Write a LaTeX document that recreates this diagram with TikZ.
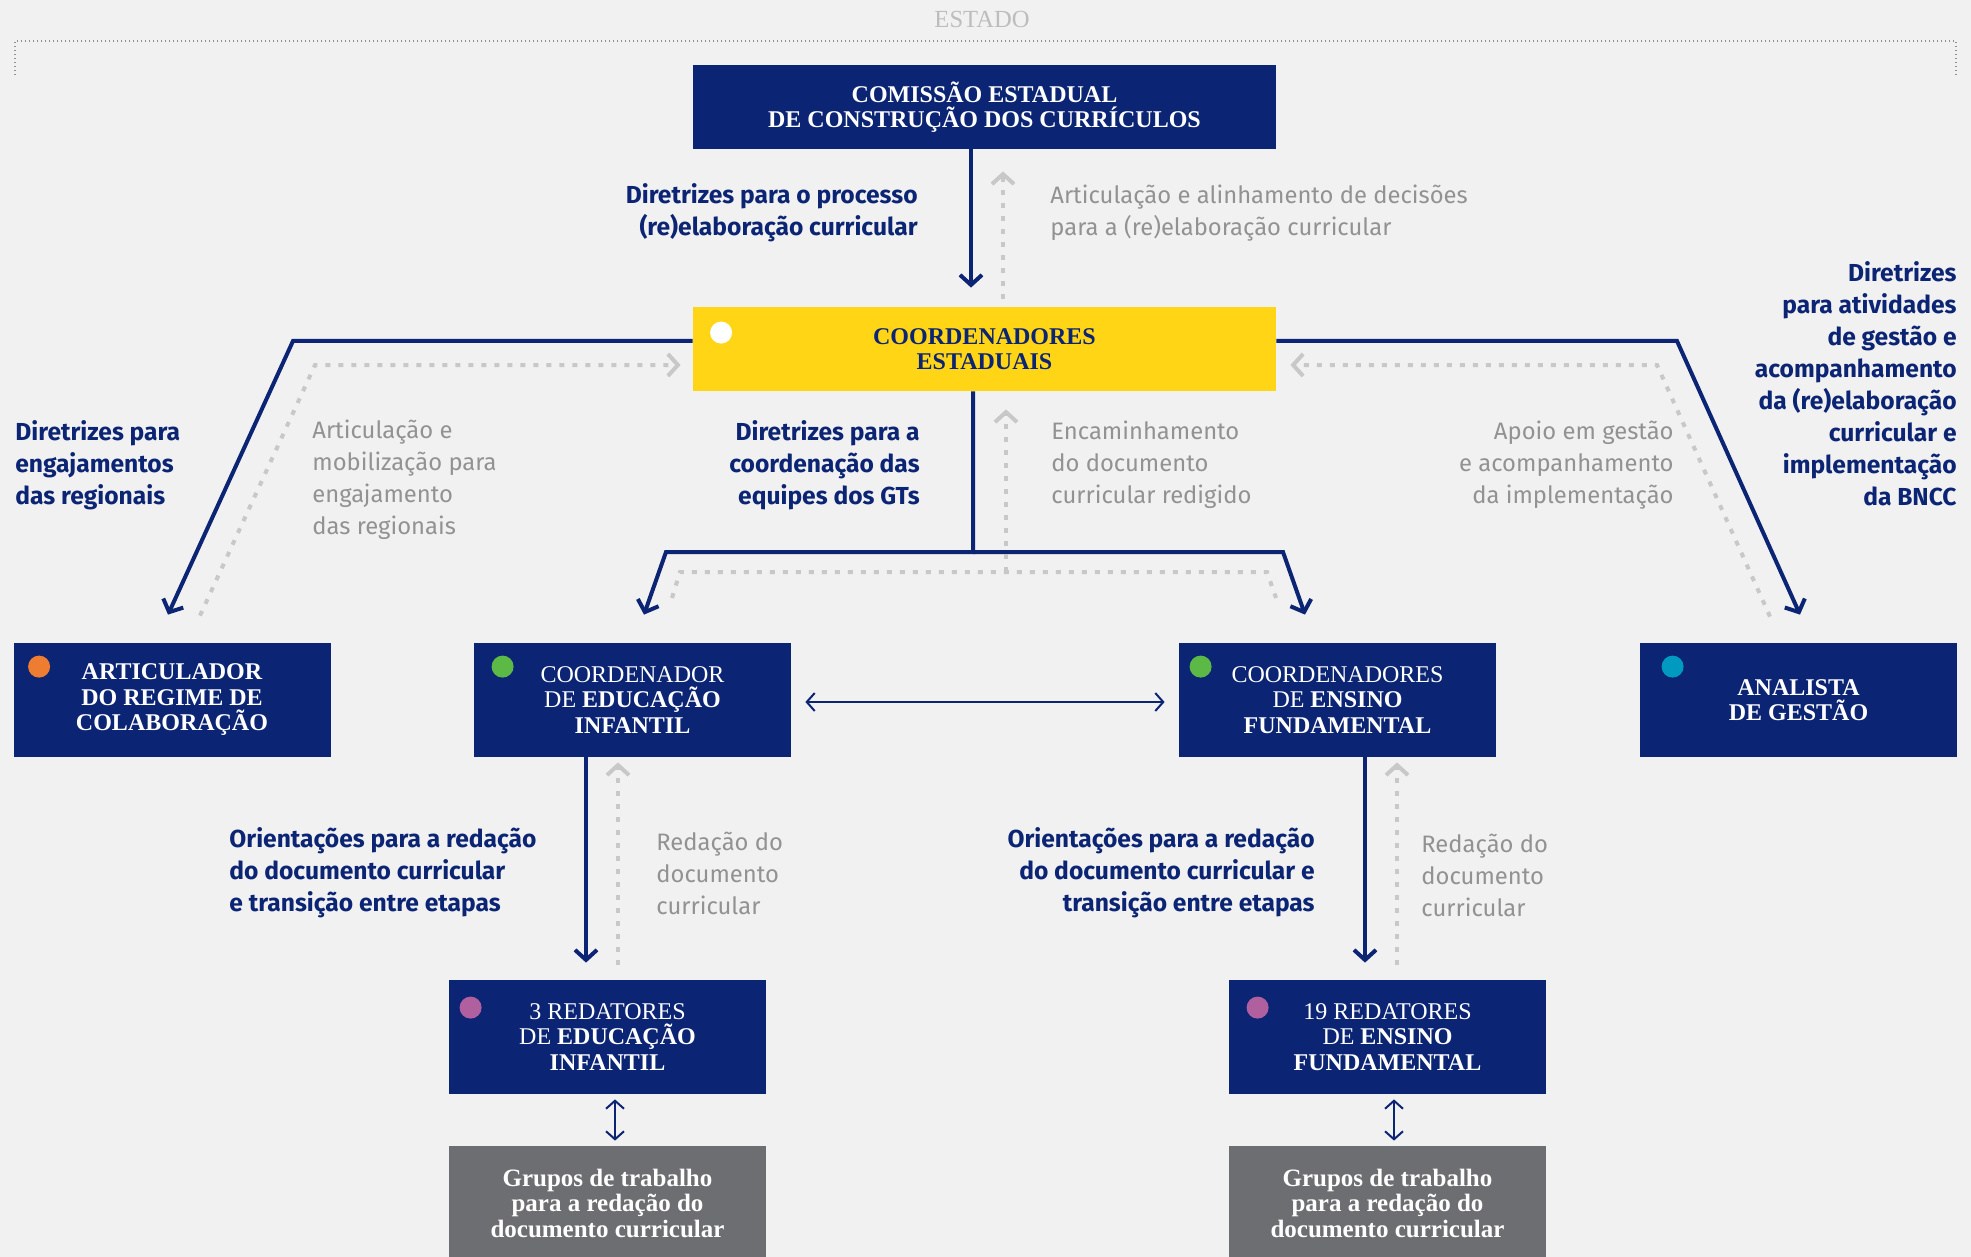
\documentclass[tikz,border=0pt]{standalone}
\usepackage{fontspec}
\setmainfont{Liberation Serif}
\newfontfamily\labelfont{Fira Sans}
\usetikzlibrary{arrows.meta}
\definecolor{navy}{HTML}{0B2473}
\definecolor{gold}{HTML}{FFD515}
\definecolor{paper}{HTML}{F1F1F1}
\definecolor{slate}{HTML}{6D6E71}
\definecolor{dotgrey}{HTML}{C8C8C8}
\definecolor{greytext}{HTML}{929292}
\definecolor{statetext}{HTML}{BDBDBD}
\definecolor{framegrey}{HTML}{8F8F8F}
\definecolor{dotorange}{HTML}{EE7D31}
\definecolor{dotgreen}{HTML}{5CB946}
\definecolor{dotteal}{HTML}{0099C0}
\definecolor{dotpurple}{HTML}{B0609F}
\begin{document}
\begin{tikzpicture}
[x=0.5pt, y=-0.5pt,%
 navybox/.style={fill=navy, text=white, inner sep=0pt, minimum width=158.5pt,
   minimum height=57pt, align=center, font=\fontsize{12}{12.75}\selectfont},%
 widebox/.style={navybox, minimum width=291.5pt, minimum height=42pt},%
 navylabel/.style={text=navy, inner sep=0pt, font=\labelfont\bfseries\fontsize{12.3}{16}\selectfont},%
 greylabel/.style={text=greytext, inner sep=0pt, font=\labelfont\fontsize{11.9}{16}\selectfont},%
 navyarrow/.style={draw=navy, line width=2pt, -{Straight Barb[length=5pt,width=11pt]}},%
 greyline/.style={draw=dotgrey, line width=2pt, dash pattern=on 2.5pt off 4pt},%
 greyarrow/.style={greyline, -{Straight Barb[length=5pt,width=11pt]}},%
 thinarrow/.style={draw=navy, line width=1pt,
   {Straight Barb[length=4pt,width=9pt]}-{Straight Barb[length=4pt,width=9pt]}}]
\fill[paper] (0,0) rectangle (1971,1257);
\useasboundingbox (0,0) rectangle (1971,1257);
%% state frame
\node[text=statetext, font=\fontsize{12.3}{14}\selectfont] (estado) at (982,19.5) {ESTADO};
\draw[framegrey, line width=0.75pt, dash pattern=on 0.6pt off 1.4pt] (15,75) -- (15,41) -- (1956,41) -- (1956,75);
%% boxes
\node[widebox] (comissao) at (984.5,107) {\bfseries COMISSÃO ESTADUAL\\\bfseries DE CONSTRUÇÃO DOS CURRÍCULOS};
\node[widebox, fill=gold, text=navy] (coord) at (984.5,349) {\bfseries COORDENADORES\\\bfseries ESTADUAIS};
\node[navybox] (artic) at (172,700) {\bfseries ARTICULADOR\\\bfseries DO REGIME DE\\\bfseries COLABORAÇÃO};
\node[navybox] (coordei) at (632.5,700) {COORDENADOR\\DE \textbf{EDUCAÇÃO}\\\textbf{INFANTIL}};
\node[navybox] (coordef) at (1337.5,700) {COORDENADORES\\DE \textbf{ENSINO}\\\textbf{FUNDAMENTAL}};
\node[navybox] (analista) at (1798.5,700) {\bfseries ANALISTA\\\bfseries DE GESTÃO};
\node[navybox] (redei) at (607.5,1037) {3 REDATORES\\DE \textbf{EDUCAÇÃO}\\\textbf{INFANTIL}};
\node[navybox] (redef) at (1387.5,1037) {19 REDATORES\\DE \textbf{ENSINO}\\\textbf{FUNDAMENTAL}};
\node[navybox, fill=slate, font=\bfseries\fontsize{12.5}{12.75}\selectfont] (gtei) at (607.5,1203)
  {Grupos de trabalho\\para a redação do\\documento curricular};
\node[navybox, fill=slate, font=\bfseries\fontsize{12.5}{12.75}\selectfont] (gtef) at (1387.5,1203)
  {Grupos de trabalho\\para a redação do\\documento curricular};
\foreach \n/\c/\dx/\dy in {coord/white/14.25/13, artic/dotorange/13/12, coordei/dotgreen/14.5/12,
  coordef/dotgreen/11/12, analista/dotteal/16.5/12, redei/dotpurple/11/14, redef/dotpurple/14.5/14}
  \fill[\c] ([xshift=\dx pt,yshift=-\dy pt]\n.north west) circle (5.5pt);
%% labels
\node[navylabel, align=right, anchor=east] (l1) at (918,213) {Diretrizes para o processo\\(re)elaboração curricular};
\node[greylabel, align=left, anchor=west] (l2) at (1050,213) {Articulação e alinhamento de decisões\\para a (re)elaboração curricular};
\node[navylabel, align=left, anchor=west] (l3) at (15,465) {Diretrizes para\\engajamentos\\das regionais};
\node[greylabel, align=left, anchor=west] (l4) at (312,480) {Articulação e\\mobilização para\\engajamento\\das regionais};
\node[navylabel, align=right, anchor=east] (l5) at (920,465) {Diretrizes para a\\coordenação das\\equipes dos GTs};
\node[greylabel, align=left, anchor=west] (l6) at (1051,465) {Encaminhamento\\do documento\\curricular redigido};
\node[greylabel, align=right, anchor=east] (l7) at (1674,465) {Apoio em gestão\\e acompanhamento\\da implementação};
\node[navylabel, align=right, anchor=east] (l8) at (1957,384) {Diretrizes\\para atividades\\de gestão e\\acompanhamento\\da (re)elaboração\\curricular e\\implementação\\da BNCC};
\node[navylabel, align=left, anchor=west] (l9) at (229,873) {Orientações para a redação\\do documento curricular\\e transição entre etapas};
\node[greylabel, align=left, anchor=west] (l10) at (656,873) {Redação do\\documento\\curricular};
\node[navylabel, align=right, anchor=east] (l11) at (1315,873) {Orientações para a redação\\do documento curricular e\\transição entre etapas};
\node[greylabel, align=left, anchor=west] (l12) at (1421,875) {Redação do\\documento\\curricular};
%% bends
\coordinate (kneeL) at (293,341);
\coordinate (kneeLd) at (315,365);
\coordinate (kneeR) at (1677,341);
\coordinate (kneeRd) at (1657,365);
\coordinate (fork) at (973,552);
\coordinate (forkL) at (666,552);
\coordinate (forkR) at (1283,552);
\coordinate (dfork) at (1006,572);
\coordinate (dforkL) at (680,572);
\coordinate (dforkR) at (1267,572);
\coordinate (dendL) at (672,598);
\coordinate (dendR) at (1276,598);
%% comissao and coordenadores
\draw[navyarrow, shorten >=9.5pt] ([xshift=-6.75pt]comissao.south) -- ([xshift=-6.75pt]coord.north);
\draw[greyarrow, shorten <=4pt, shorten >=11pt] ([xshift=9.25pt]coord.north) -- ([xshift=9.25pt]comissao.south);
%% left branch
\draw[navyarrow] ([yshift=4pt]coord.west) -- (kneeL) -- ([xshift=-2pt,yshift=14pt]artic.north);
\draw[greyarrow] ([xshift=14pt,yshift=13.5pt]artic.north) -- (kneeLd) -- ([xshift=-6pt,yshift=-8pt]coord.west);
%% right branch
\draw[navyarrow] ([yshift=4pt]coord.east) -- (kneeR) -- ([xshift=0.75pt,yshift=14pt]analista.north);
\draw[greyarrow] ([xshift=-14.25pt,yshift=13pt]analista.north) -- (kneeRd) -- ([xshift=7pt,yshift=-8pt]coord.east);
%% centre branch
\draw[navyarrow] ([xshift=-5.75pt]coord.south) -- (fork) -- (forkL) -- ([xshift=5.75pt,yshift=14pt]coordei.north);
\draw[navyarrow] (fork) -- (forkR) -- ([xshift=-16.25pt,yshift=14pt]coordef.north);
\draw[greyline] (dendL) -- (dforkL) -- (dforkR) -- (dendR);
\draw[greyarrow] (dfork) -- ([xshift=10.75pt,yshift=-9pt]coord.south);
\draw[thinarrow] ([xshift=7pt,yshift=-1pt]coordei.east) -- ([xshift=-7pt,yshift=-1pt]coordef.west);
%% redatores
\draw[navyarrow] ([xshift=-23.25pt]coordei.south) -- ([xshift=-10.75pt,yshift=8.5pt]redei.north);
\draw[greyarrow] ([xshift=5.25pt,yshift=7.5pt]redei.north) -- ([xshift=-7.25pt,yshift=-2.5pt]coordei.south);
\draw[navyarrow] ([xshift=13.75pt]coordef.south) -- ([xshift=-11.25pt,yshift=8.5pt]redef.north);
\draw[greyarrow] ([xshift=4.75pt,yshift=7.5pt]redef.north) -- ([xshift=29.75pt,yshift=-2.5pt]coordef.south);
\draw[thinarrow] ([xshift=3.75pt,yshift=-2.5pt]redei.south) -- ([xshift=3.75pt,yshift=2.5pt]gtei.north);
\draw[thinarrow] ([xshift=3.25pt,yshift=-2.5pt]redef.south) -- ([xshift=3.25pt,yshift=2.5pt]gtef.north);
\end{tikzpicture}
\end{document}
